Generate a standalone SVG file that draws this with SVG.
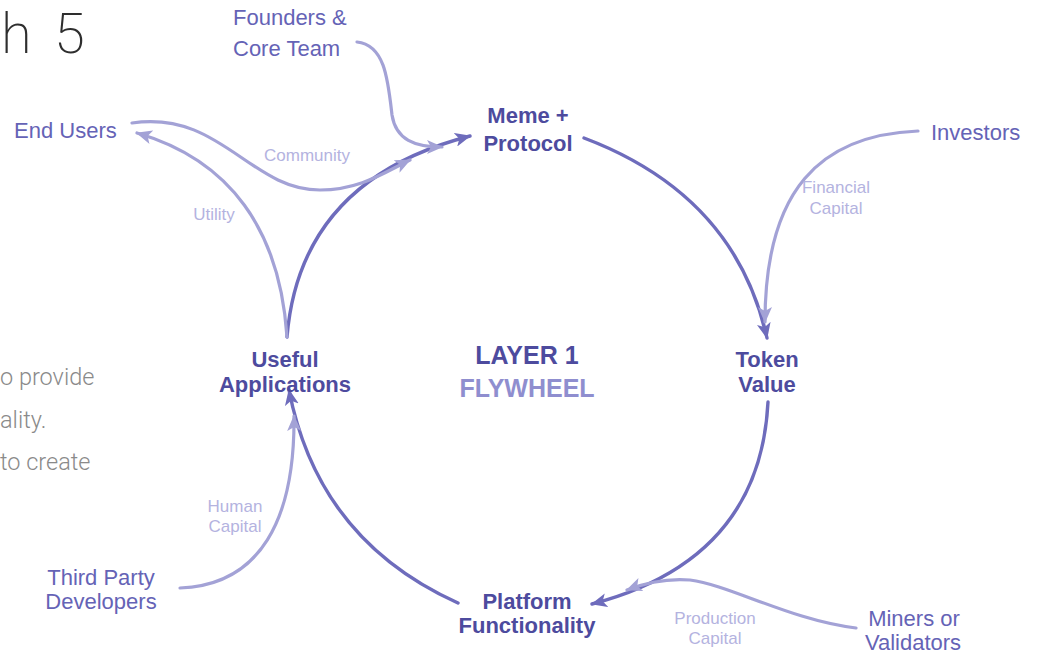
<svg xmlns="http://www.w3.org/2000/svg" width="1037" height="653" viewBox="0 0 1037 653">
  <style>
    .node { font-family: "Liberation Sans", Arial, sans-serif; font-weight: bold; font-size: 22px; fill: #4d4b9e; text-anchor: middle; }
    .ext { font-family: "Liberation Sans", Arial, sans-serif; font-size: 22px; fill: #6563b6; }
    .edge-label { font-family: "Liberation Sans", Arial, sans-serif; font-size: 17px; fill: #b4b3df; text-anchor: middle; }
    .title { font-family: Roboto, "Liberation Sans", sans-serif; font-weight: 200; font-size: 56px; fill: #2e2e2e; }
    .body { font-family: Roboto, "Liberation Sans", sans-serif; font-weight: 300; font-size: 23.5px; fill: #8a8a8a; }
    .main { fill: none; stroke: #6e6cbc; stroke-width: 3.4; stroke-linecap: round; }
    .feed { fill: none; stroke: #a3a2d6; stroke-width: 3.2; stroke-linecap: round; }
  </style>
  <defs>
    <marker id="arrow-main" markerUnits="userSpaceOnUse" markerWidth="18" markerHeight="14" refX="15" refY="7" orient="auto">
      <path d="M0,0 L16,7 L0,14 L4,7 Z" fill="#6e6cbc"/>
    </marker>
    <marker id="arrow-feed" markerUnits="userSpaceOnUse" markerWidth="18" markerHeight="14" refX="15" refY="7" orient="auto">
      <path d="M0,0 L16,7 L0,14 L4,7 Z" fill="#a3a2d6"/>
    </marker>
  </defs>

  <rect width="1037" height="653" fill="#ffffff"/>

  <!-- heading and body copy running off the left edge -->
  <text class="title" y="53"><tspan x="1">h</tspan><tspan x="54">5</tspan></text>
  <text class="body" x="0" y="385">o provide</text>
  <text class="body" x="0" y="428">ality.</text>
  <text class="body" x="0" y="470">to create</text>

  <!-- connectors -->
  <g id="connectors">
    <!-- inner flywheel loop -->
    <path class="main" d="M584,138 Q735,195 767,338" marker-end="url(#arrow-main)"/>
    <path class="main" d="M768,402 Q760,560 592,604" marker-end="url(#arrow-main)"/>
    <path class="main" d="M458,603 Q318,540 289,390" marker-end="url(#arrow-main)"/>
    <path class="main" d="M287,337 Q300,180 470,136" marker-end="url(#arrow-main)"/>
    <!-- outside inputs -->
    <path class="feed" d="M287,337 C280,230 230,160 137,133" marker-end="url(#arrow-feed)"/>
    <path class="feed" d="M132,123 C220,110 250,190 320,190 C360,190 385,172 410,160" marker-end="url(#arrow-feed)"/>
    <path class="feed" d="M357,42 C385,45 388,80 392,115 C396,140 415,147 442,147" marker-end="url(#arrow-feed)"/>
    <path class="feed" d="M918,131 C820,135 765,190 765,322" marker-end="url(#arrow-feed)"/>
    <path class="feed" d="M856,628 C790,620 730,585 690,580 C665,578 645,583 627,590" marker-end="url(#arrow-feed)"/>
    <path class="feed" d="M180,588 C260,585 295,520 294,416" marker-end="url(#arrow-feed)"/>
  </g>

  <!-- edge labels -->
  <g id="edge-labels">
    <text class="edge-label" x="307" y="161">Community</text>
    <text class="edge-label" x="214" y="220">Utility</text>
    <text class="edge-label" x="836" y="193">Financial</text>
    <text class="edge-label" x="836" y="214">Capital</text>
    <text class="edge-label" x="235" y="512">Human</text>
    <text class="edge-label" x="235" y="532">Capital</text>
    <text class="edge-label" x="715" y="624">Production</text>
    <text class="edge-label" x="715" y="644">Capital</text>
  </g>

  <!-- flywheel stages -->
  <g id="meme-protocol">
    <text class="node" x="528" y="123">Meme +</text>
    <text class="node" x="528" y="151">Protocol</text>
  </g>
  <g id="token-value">
    <text class="node" x="767" y="367">Token</text>
    <text class="node" x="767" y="392">Value</text>
  </g>
  <g id="platform-functionality">
    <text class="node" x="527" y="609">Platform</text>
    <text class="node" x="527" y="633">Functionality</text>
  </g>
  <g id="useful-applications">
    <text class="node" x="285" y="367">Useful</text>
    <text class="node" x="285" y="392">Applications</text>
  </g>
  <g id="flywheel-title">
    <text class="node" x="527" y="364" style="font-size:25px">LAYER 1</text>
    <text class="node" x="527" y="397" style="font-size:25px;fill:#8f8ecf">FLYWHEEL</text>
  </g>

  <!-- outside contributors -->
  <g id="founders">
    <text class="ext" x="233" y="25">Founders &amp;</text>
    <text class="ext" x="233" y="56">Core Team</text>
  </g>
  <g id="end-users">
    <text class="ext" x="14" y="138">End Users</text>
  </g>
  <g id="investors">
    <text class="ext" x="931" y="140">Investors</text>
  </g>
  <g id="third-party-developers">
    <text class="ext" x="101" y="585" text-anchor="middle">Third Party</text>
    <text class="ext" x="101" y="609" text-anchor="middle">Developers</text>
  </g>
  <g id="miners-validators">
    <text class="ext" x="914" y="626" text-anchor="middle">Miners or</text>
    <text class="ext" x="913" y="650" text-anchor="middle">Validators</text>
  </g>
</svg>
